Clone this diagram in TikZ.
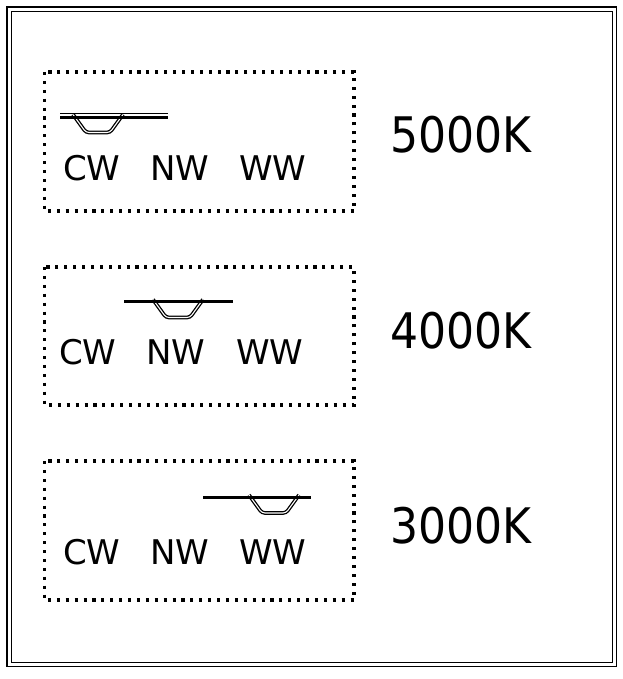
\documentclass[tikz,border=0pt]{standalone}
\usepackage{fontspec}
\setmainfont{DejaVu Sans}
\newfontfamily\condfont{DejaVu Sans Condensed}
\begin{document}
\begin{tikzpicture}[x=1pt,y=-1pt,
  frame/.style={line width=1.8pt},
  dotbox/.style={line width=3.1pt, dash pattern=on 3.1pt off 5.8pt},
  rail/.style={line width=3.8pt},
  thinrail/.style={line width=1pt},
  slider/.style={double, line width=1.3pt, double distance=1.1pt, rounded corners=3pt},
  lbl/.style={anchor=base west, inner sep=0pt, font=\fontsize{34}{34}\selectfont},
  temp/.style={anchor=base west, inner sep=0pt, font=\condfont\fontsize{49}{49}\selectfont}]
\useasboundingbox (0,0) rectangle (622,679);
% frame
\draw[frame] (7,7) rectangle (616.5,666.5);
\draw[frame] (11.5,11.5) rectangle (612.5,662.5);
% dotted boxes
\draw[dotbox] (44.5,72) rectangle (354,211);
\draw[dotbox] (44.5,267) rectangle (354,405);
\draw[dotbox] (44.5,461) rectangle (354,600);
% row 1
\draw[slider] (73,114.5) -- (86,132.5) -- (110,132.5) -- (123,114.5);
\draw[thinrail] (60,113.3) -- (168,113.3);
\draw[rail] (60,117.5) -- (168,117.5);
\node[lbl] (cw1) at (63,180) {CW};
\node[lbl] (nw1) at (150,180) {NW};
\node[lbl] (ww1) at (239,180) {WW};
\node[temp] (t1) at (390,153) {5000K};
% row 2
\draw[slider] (153,299.5) -- (166,317.5) -- (190,317.5) -- (203,299.5);
\draw[rail] (124,301.5) -- (233,301.5);
\node[lbl] (cw2) at (59,364) {CW};
\node[lbl] (nw2) at (146,364) {NW};
\node[lbl] (ww2) at (236,364) {WW};
\node[temp] (t2) at (390,348) {4000K};
% row 3
\draw[slider] (249,495) -- (262,513) -- (286,513) -- (299,495);
\draw[rail] (203,497.5) -- (311,497.5);
\node[lbl] (cw3) at (63,564) {CW};
\node[lbl] (nw3) at (150,564) {NW};
\node[lbl] (ww3) at (239,564) {WW};
\node[temp] (t3) at (390,543) {3000K};
\end{tikzpicture}
\end{document}
